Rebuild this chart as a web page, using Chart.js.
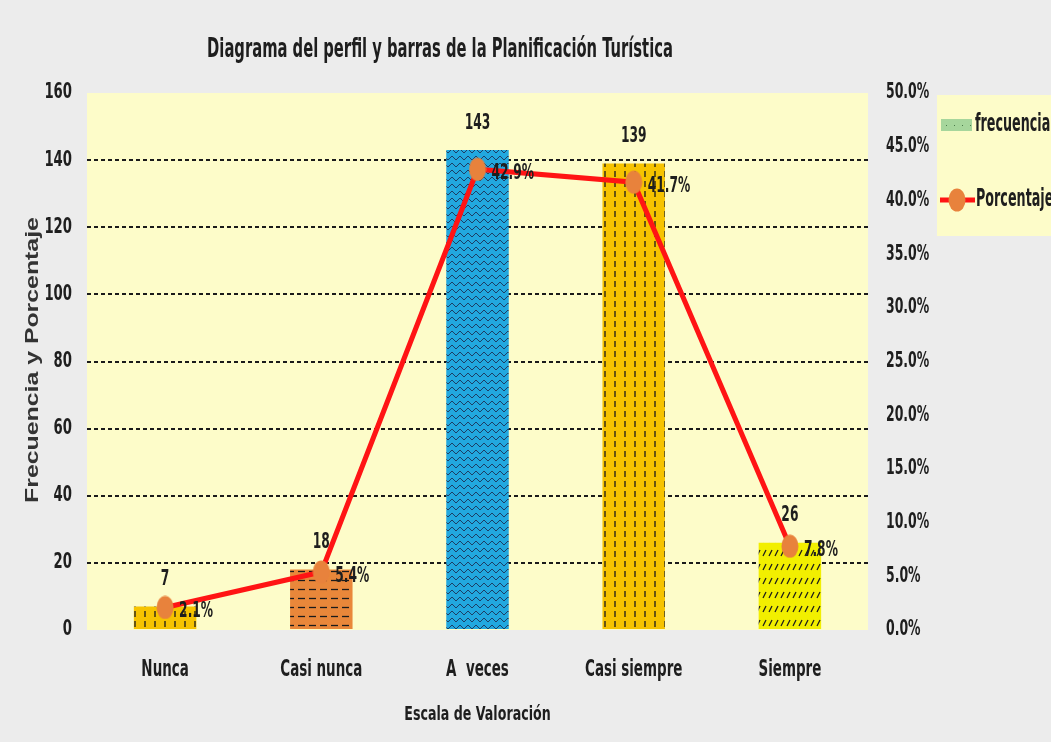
<!DOCTYPE html>
<html>
<head>
<meta charset="utf-8">
<script src="https://cdn.jsdelivr.net/npm/chart.js@4.4.1/dist/chart.umd.min.js"></script>
<style>
  html, body { margin: 0; padding: 0; background: #ececec; }
  canvas { display: block; }
</style>
</head>
<body>
<canvas id="chart" width="1051" height="742"></canvas>
<script>
// data
const categories = ["Nunca", "Casi nunca", "A  veces", "Casi siempre", "Siempre"];
const frecuencia = [7, 18, 143, 139, 26];
const porcentaje = [2.1, 5.4, 42.9, 41.7, 7.8];
const leftMax = 160;
const leftStep = 20;
const rightMax = 50;
const rightStep = 5;

const NARROW = "'Liberation Sans Narrow', 'Arial Narrow', 'DejaVu Sans Condensed', sans-serif";
const PLOT_BG = "#fdfcc9";
const INK = "#1e1e1e";
const HIDDEN = "rgba(0,0,0,0)";

function makePattern(bg, w, h, draw) {
  const c = document.createElement("canvas");
  c.width = w;
  c.height = h;
  const g = c.getContext("2d");
  g.fillStyle = bg;
  g.fillRect(0, 0, w, h);
  g.strokeStyle = "#1b1b1b";
  g.lineWidth = 1.3;
  draw(g);
  return g.createPattern(c, "repeat");
}

const vDash = (g) => { g.beginPath(); g.moveTo(5, 1); g.lineTo(5, 7); g.stroke(); };
const hDash = (g) => { g.beginPath(); g.moveTo(1, 4.5); g.lineTo(8, 4.5); g.stroke(); };
const zigzag = (g) => { g.lineWidth = 1; g.strokeStyle = "#1d3f66"; g.beginPath(); g.moveTo(0, 6); g.lineTo(4, 2); g.lineTo(8, 6); g.stroke(); };
const slash = (g) => { g.beginPath(); g.moveTo(1, 10); g.lineTo(4, 4); g.stroke(); };
const dots = (g) => { g.fillStyle = "#4a7a4a"; g.fillRect(2, 5, 1, 1); };

const barFills = [
  makePattern("#f6c300", 10, 10, vDash),
  makePattern("#e9873a", 11, 9, hDash),
  makePattern("#22a8df", 8, 7, zigzag),
  makePattern("#f6c300", 10, 10, vDash),
  makePattern("#f2ef00", 6, 14, slash),
];
const legendFill = makePattern("#a6d69c", 8, 8, dots);

// tall orange marker
const marker = document.createElement("canvas");
marker.width = 18;
marker.height = 24;
(function () {
  const g = marker.getContext("2d");
  g.fillStyle = "#e8823c";
  g.beginPath();
  g.ellipse(9, 12, 8.5, 11.5, 0, 0, Math.PI * 2);
  g.fill();
})();

// the source text is tall and squeezed, so draw it scaled sideways
function narrowText(ctx, text, x, y, size, sx, align) {
  ctx.save();
  ctx.font = "bold " + size + "px " + NARROW;
  ctx.fillStyle = INK;
  ctx.textAlign = align;
  ctx.textBaseline = "middle";
  ctx.translate(x, y);
  ctx.scale(sx, 1);
  ctx.fillText(text, 0, 0);
  ctx.restore();
}

const decor = {
  id: "decor",
  beforeDraw(chart) {
    const { ctx, chartArea: a } = chart;
    ctx.save();
    ctx.fillStyle = PLOT_BG;
    ctx.fillRect(a.left, a.top, a.right - a.left, a.bottom - a.top);
    ctx.restore();
  },
  afterDraw(chart) {
    const { ctx, chartArea: a, scales } = chart;
    narrowText(ctx, "Diagrama del perfil y barras de la Planificación Turística", 440, 50, 27, 0.607, "center");

    // axis tick labels
    scales.y.ticks.forEach((t) => {
      narrowText(ctx, String(t.value), a.left - 15, scales.y.getPixelForValue(t.value), 21, 0.7, "right");
    });
    scales.y1.ticks.forEach((t) => {
      narrowText(ctx, t.value.toFixed(1) + "%", a.right + 18, scales.y1.getPixelForValue(t.value), 21, 0.66, "left");
    });
    categories.forEach((c, i) => {
      narrowText(ctx, c, scales.x.getPixelForTick(i), 670, 23, 0.65, "center");
    });
    narrowText(ctx, "Escala de Valoración", (a.left + a.right) / 2, 715, 19, 0.74, "center");

    // y axis title
    ctx.save();
    ctx.translate(33, 360);
    ctx.rotate(-Math.PI / 2);
    ctx.scale(1.38, 1);
    ctx.font = "bold 18px 'Liberation Sans', Arial, sans-serif";
    ctx.fillStyle = "#333";
    ctx.textAlign = "center";
    ctx.textBaseline = "middle";
    ctx.fillText("Frecuencia y Porcentaje", 0, 0);
    ctx.restore();

    // value labels
    chart.getDatasetMeta(0).data.forEach((bar, i) => {
      narrowText(ctx, String(frecuencia[i]), bar.x, bar.y - 27, 22, 0.62, "center");
    });
    chart.getDatasetMeta(1).data.forEach((pt, i) => {
      narrowText(ctx, porcentaje[i].toFixed(1) + "%", pt.x + 14, pt.y + 4, 22, 0.62, "left");
    });

    // legend
    ctx.save();
    ctx.fillStyle = PLOT_BG;
    ctx.fillRect(937, 95, 120, 141);
    ctx.fillStyle = legendFill;
    ctx.fillRect(941, 119, 31, 12);
    ctx.strokeStyle = "#ff1414";
    ctx.lineWidth = 5;
    ctx.beginPath();
    ctx.moveTo(940, 200);
    ctx.lineTo(975, 200);
    ctx.stroke();
    ctx.drawImage(marker, 948, 188);
    ctx.restore();
    narrowText(ctx, "frecuencia", 975, 125, 24, 0.59, "left");
    narrowText(ctx, "Porcentaje", 976, 200, 24, 0.59, "left");
  },
};

new Chart(document.getElementById("chart"), {
  data: {
    labels: categories,
    datasets: [
      {
        type: "bar",
        label: "frecuencia",
        data: frecuencia,
        backgroundColor: barFills,
        borderWidth: 0,
        categoryPercentage: 0.8,
        barPercentage: 0.5,
        yAxisID: "y",
        order: 2,
      },
      {
        type: "line",
        label: "Porcentaje",
        data: porcentaje,
        borderColor: "#ff1414",
        borderWidth: 5,
        pointStyle: marker,
        pointRadius: 9,
        pointBorderWidth: 0,
        pointBackgroundColor: "#e8823c",
        tension: 0,
        yAxisID: "y1",
        order: 1,
      },
    ],
  },
  options: {
    responsive: false,
    animation: false,
    devicePixelRatio: 1,
    layout: { padding: { top: 93, left: 0, right: 0, bottom: 0 } },
    plugins: {
      legend: { display: false },
      tooltip: { enabled: false },
      title: { display: false },
    },
    scales: {
      x: {
        grid: { display: false },
        border: { display: false },
        ticks: { color: HIDDEN },
        afterFit(scale) { scale.height = 112; },
      },
      y: {
        position: "left",
        min: 0,
        max: leftMax,
        border: { display: false, dash: [4, 3] },
        grid: {
          drawTicks: false,
          lineWidth: 2,
          color: (c) => (c.tick.value === 0 || c.tick.value === leftMax ? HIDDEN : "#1a1a1a"),
        },
        ticks: { stepSize: leftStep, color: HIDDEN },
        afterFit(scale) { scale.width = 87; },
      },
      y1: {
        position: "right",
        min: 0,
        max: rightMax,
        border: { display: false },
        grid: { display: false },
        ticks: { stepSize: rightStep, color: HIDDEN },
        afterFit(scale) { scale.width = 183; },
      },
    },
  },
  plugins: [decor],
});
</script>
</body>
</html>
